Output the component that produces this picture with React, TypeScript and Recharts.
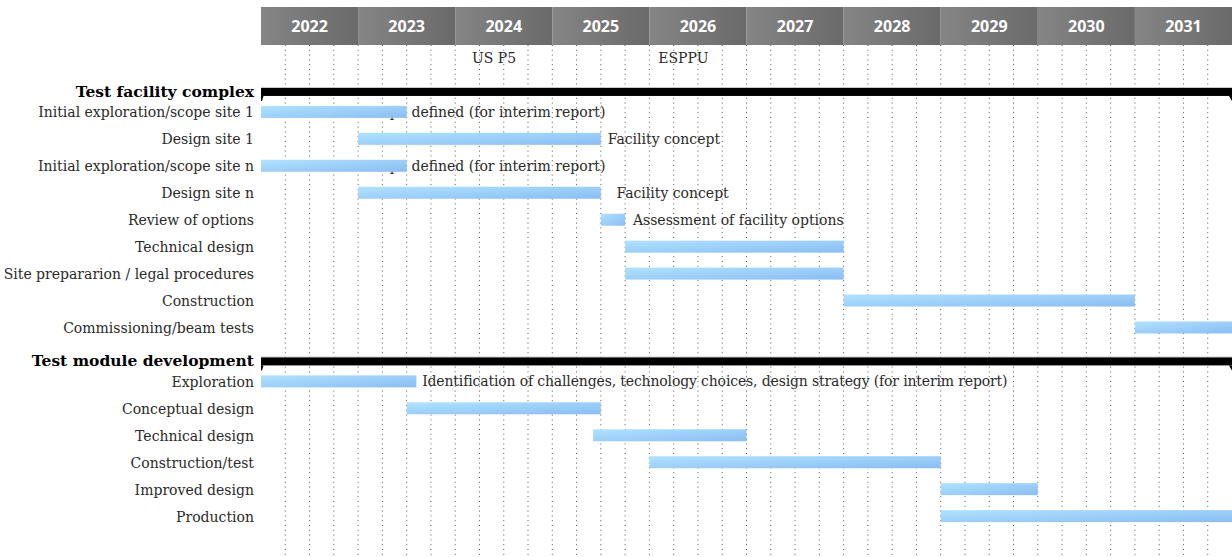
import React from 'react';
import { ComposedChart, Bar, XAxis, YAxis, CartesianGrid, ReferenceDot } from 'recharts';

// ---- data ----
const years = [2022, 2023, 2024, 2025, 2026, 2027, 2028, 2029, 2030, 2031];
const yearLabels = ['2022', '2023', '2024', '2025', '2026', '2027', '2028', '2029', '2030', '2031'];
const domainStart = 2022;
const domainEnd = 2032;

const milestoneLabels = ['US P5', 'ESPPU'];
const milestoneAt = [2024.4, 2026.35];

const rowIds = ['m', 'g1', 't1', 't2', 't3', 't4', 't5', 't6', 't7', 't8', 't9', 'g2', 'u1', 'u2', 'u3', 'u4', 'u5', 'u6', 'end'];
const rowKinds = ['milestone', 'group', 'task', 'task', 'task', 'task', 'task', 'task', 'task', 'task', 'task', 'group', 'task', 'task', 'task', 'task', 'task', 'task', 'blank'];
const rowNames = [
  '',
  'Test facility complex',
  'Initial exploration/scope site 1',
  'Design site 1',
  'Initial exploration/scope site n',
  'Design site n',
  'Review of options',
  'Technical design',
  'Site prepararion / legal procedures',
  'Construction',
  'Commissioning/beam tests',
  'Test module development',
  'Exploration',
  'Conceptual design',
  'Technical design',
  'Construction/test',
  'Improved design',
  'Production',
  '',
];
const rowStarts = [null, 2022, 2022, 2023, 2022, 2023, 2025.5, 2025.75, 2025.75, 2028, 2031, 2022, 2022, 2023.5, 2025.42, 2026, 2029, 2029, null];
const rowEnds = [null, 2032, 2023.5, 2025.5, 2023.5, 2025.5, 2025.75, 2028, 2028, 2031, 2032, 2032, 2023.6, 2025.5, 2027, 2029, 2030, 2032, null];
const rowNotes = [
  '', '',
  'Scope defined (for interim report)',
  'Facility concept',
  'Scope defined (for interim report)',
  'Facility concept',
  'Assessment of facility options',
  '', '', '', '', '',
  'Identification of challenges, technology choices, design strategy (for interim report)',
  '', '', '', '', '', '',
];
const rowNoteAt = [null, null, 2023.06, 2025.57, 2023.06, 2025.66, 2025.83, null, null, null, null, null, 2023.66, null, null, null, null, null, null];

const quarterTicks = years.flatMap((y) => [y + 0.25, y + 0.5, y + 0.75]).concat(years.slice(1));
const yearCenters = years.map((y) => y + 0.5);

const rows = rowIds.map((id, i) => ({
  id,
  kind: rowKinds[i],
  name: rowNames[i],
  range: rowStarts[i] != null ? [rowStarts[i], rowEnds[i]] : null,
  note: rowNotes[i],
  noteAt: rowNoteAt[i],
}));

// ---- styles ----
const SERIF = '"DejaVu Serif", serif';
const LABEL_SIZE = 14;
const GROUP_SIZE = 15.5;
const GROUP_SHIFT = 7;

const YearTick = (props: any) => {
  const { x, y, payload, index } = props;
  const w = (props.width ?? 971) / years.length;
  const h = props.height ?? 38;
  const top = y - h;
  return (
    <g>
      <rect x={x - w / 2} y={top} width={w} height={h} fill="url(#hdrGrad)" />
      <text
        x={x}
        y={top + h / 2}
        textAnchor="middle"
        dominantBaseline="central"
        fill="#ffffff"
        fontFamily='"Open Sans", sans-serif'
        fontWeight={700}
        fontSize={16}
      >
        {yearLabels[index] ?? String(Math.floor(payload.value))}
      </text>
    </g>
  );
};

const RowTick = (props: any) => {
  const { x, y, payload } = props;
  const row = rows.find((r) => r.id === payload.value);
  if (!row || !row.name) return null;
  const isGroup = row.kind === 'group';
  return (
    <text
      x={x}
      y={y + (isGroup ? GROUP_SHIFT - 1 : 0)}
      textAnchor="end"
      dominantBaseline="central"
      fill={isGroup ? '#000' : '#2a2a2a'}
      fontFamily={SERIF}
      fontWeight={isGroup ? 700 : 400}
      fontSize={isGroup ? GROUP_SIZE : LABEL_SIZE}
    >
      {row.name}
    </text>
  );
};

const RowShape = (props: any) => {
  const { x, y, width, height, payload } = props;
  if (!payload || !payload.range) return null;
  const [s, e] = payload.range;
  const ppy = width / (e - s);
  const cy = y + height / 2;
  if (payload.kind === 'group') {
    const t = cy + GROUP_SHIFT - 4;
    return (
      <g>
        <rect x={x} y={t - 1} width={width} height={1} fill="#d0d0d0" />
        <rect x={x} y={t} width={width} height={8} fill="#000" />
        <polygon points={`${x},${t + 8} ${x + 2.5},${t + 8} ${x + 1},${t + 13} ${x},${t + 13}`} fill="#000" />
        <polygon points={`${x + width - 3},${t + 8} ${x + width},${t + 8} ${x + width},${t + 13}`} fill="#000" />
      </g>
    );
  }
  return (
    <g>
      {payload.note ? (
        <text
          x={x + (payload.noteAt - s) * ppy}
          y={cy}
          dominantBaseline="central"
          fill="#2a2a2a"
          fontFamily={SERIF}
          fontSize={LABEL_SIZE}
          letterSpacing={payload.note.length > 60 ? -0.15 : 0}
        >
          {payload.note}
        </text>
      ) : null}
      <rect x={x} y={y} width={width} height={height} fill="url(#barGrad)" />
    </g>
  );
};

const gridGenerator = (props: any) => {
  const { xAxis, offset } = props;
  const sc = xAxis && xAxis.scale;
  return quarterTicks.map((q) => {
    if (typeof sc === 'function') return sc(q);
    if (sc && typeof sc.map === 'function') return sc.map(q);
    return offset.left + ((q - domainStart) / (domainEnd - domainStart)) * offset.width;
  });
};

export default function App() {
  return (
    <div style={{ position: 'absolute', left: 0, top: 0, width: 1232, height: 557, background: '#fff' }}>
      <ComposedChart
        layout="vertical"
        width={1232}
        height={557}
        data={rows}
        margin={{ top: 7, right: 0, bottom: 0, left: 0 }}
        barSize={12}
      >
        <defs>
          <linearGradient id="barGrad" x1="0" y1="0" x2="1" y2="1">
            <stop offset="0%" stopColor="#b0e2ff" />
            <stop offset="100%" stopColor="#8abdf2" />
          </linearGradient>
          <linearGradient id="hdrGrad" x1="0" y1="0" x2="1" y2="0">
            <stop offset="0%" stopColor="#858585" />
            <stop offset="100%" stopColor="#6a6a6a" />
          </linearGradient>
        </defs>
        <CartesianGrid
          xAxisId="top"
          horizontal={false}
          vertical
          verticalCoordinatesGenerator={gridGenerator}
          stroke="#555"
          strokeWidth={1}
          strokeDasharray="1 3.8"
        />
        <XAxis
          xAxisId="top"
          type="number"
          orientation="top"
          domain={[domainStart, domainEnd]}
          ticks={yearCenters}
          interval={0}
          height={38}
          axisLine={false}
          tickLine={false}
          tickSize={0}
          tickMargin={0}
          tick={<YearTick />}
        />
        <YAxis
          type="category"
          dataKey="id"
          width={261}
          interval={0}
          axisLine={false}
          tickLine={false}
          tickSize={6}
          tickMargin={1}
          tick={<RowTick />}
        />
        <Bar
          xAxisId="top"
          dataKey="range"
          shape={<RowShape />}
          isAnimationActive={false}
        />
        {milestoneLabels.map((m, i) => (
          <ReferenceDot
            key={m}
            xAxisId="top"
            x={milestoneAt[i]}
            y="m"
            r={0}
            fill="none"
            stroke="none"
            ifOverflow="visible"
            label={{ value: m, position: 'center', fill: '#2a2a2a', fontFamily: SERIF, fontSize: LABEL_SIZE }}
          />
        ))}
      </ComposedChart>
    </div>
  );
}
